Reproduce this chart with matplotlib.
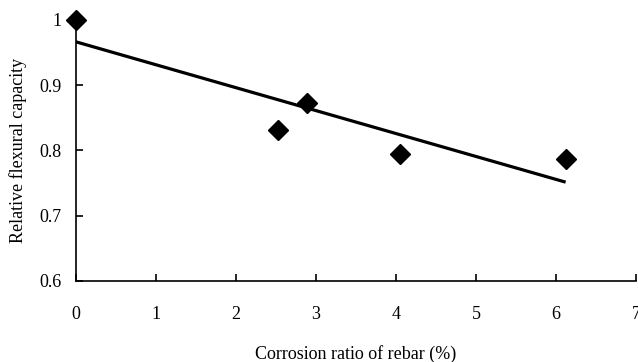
import numpy as np
import matplotlib
matplotlib.use("Agg")
import matplotlib.pyplot as plt

# corrosion ratio (%) and relative flexural capacity
corrosion = [0.0, 2.53, 2.89, 4.05, 6.12]
capacity = [1.0, 0.831, 0.873, 0.794, 0.787]

plt.rcParams['font.family'] = ['Liberation Serif', 'DejaVu Serif']

fig = plt.figure(figsize=(6.38, 3.62), dpi=100)
ax = fig.add_axes([0.1187, 0.2238, 0.8783, 0.721])

# linear trendline through the measured points
k, b = np.polyfit(corrosion, capacity, 1)
xs = np.array([min(corrosion), max(corrosion)])
ax.plot(xs, k * xs + b, color="black", linewidth=2.3, solid_capstyle="butt")

ax.plot(corrosion, capacity, linestyle="none", marker="D", markersize=10,
        color="black", clip_on=False, zorder=3)

ax.set_xlim(0, 7)
ax.set_ylim(0.6, 1.0)
ax.set_xticks(range(0, 8))
ax.set_yticks([0.6, 0.7, 0.8, 0.9, 1.0])
ax.set_yticklabels(["0.6", "0.7", "0.8", "0.9", "1"])

for s in ["top", "right"]:
    ax.spines[s].set_visible(False)
for s in ["left", "bottom"]:
    ax.spines[s].set_linewidth(1.2)

ax.tick_params(direction="in", length=5, width=1.2, labelsize=13)
ax.tick_params(axis="x", pad=18)
ax.tick_params(axis="y", pad=10)

ax.set_xlabel("Corrosion ratio of rebar (%)", fontsize=13, labelpad=16)
ax.set_ylabel("Relative flexural capacity", fontsize=13, labelpad=9)

fig.savefig("out.png", dpi=100)
